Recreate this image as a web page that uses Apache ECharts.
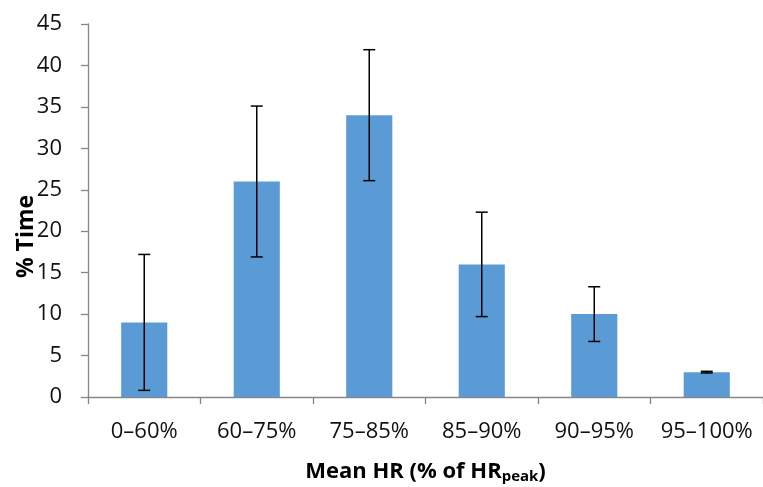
<!DOCTYPE html>
<html><head><meta charset="utf-8">
<script src="https://cdn.jsdelivr.net/npm/echarts@6/dist/echarts.min.js"></script>
<style>html,body{margin:0;padding:0;background:#fff}#c{width:763px;height:487px}</style>
</head><body><div id="c"></div>
<script>
var categories = ['0–60%', '60–75%', '75–85%', '85–90%', '90–95%', '95–100%'];
var values = [9, 26, 34, 16, 10, 3];
var errors = [8.2, 9.1, 7.9, 6.3, 3.3, 0.1];
var yTicks = [0, 45, 5];

var errData = values.map(function (v, i) { return [i, v - errors[i], v + errors[i]]; });
var font = '"Open Sans", "Noto Sans", sans-serif';
var chart = echarts.init(document.getElementById('c'));
chart.setOption({
  animation: false,
  grid: { left: 88, right: 0, top: 24, bottom: 90, containLabel: false, outerBoundsMode: 'none' },
  xAxis: {
    type: 'category', data: categories,
    axisLine: { lineStyle: { color: '#868686', width: 1.3 } },
    axisTick: { show: true, length: 7, lineStyle: { color: '#868686', width: 1.3 } },
    axisLabel: { color: '#111', fontSize: 22, fontFamily: font, margin: 24, interval: 0, hideOverlap: false },
    name: '{b|Mean HR (% of HR}{s|peak}{b|)}',
    nameLocation: 'middle', nameGap: 62,
    nameTextStyle: { rich: {
      b: { fontSize: 22, fontWeight: 'bold', fontFamily: font, color: '#000' },
      s: { fontSize: 15, fontWeight: 'bold', fontFamily: font, color: '#000', verticalAlign: 'bottom', padding: [10, 0, 0, 0] }
    } }
  },
  yAxis: {
    type: 'value', min: yTicks[0], max: yTicks[1], interval: yTicks[2],
    axisLine: { show: true, lineStyle: { color: '#868686', width: 1.3 } },
    axisTick: { show: true, length: 7, lineStyle: { color: '#868686', width: 1.3 } },
    splitLine: { show: false },
    axisLabel: { color: '#111', fontSize: 22, fontFamily: font, margin: 26 },
    name: '% Time', nameLocation: 'middle', nameGap: 50, nameMoveOverlap: false,
    nameTextStyle: { fontSize: 23, fontWeight: 'bold', fontFamily: font, color: '#000', padding: [0, 52, 0, 0] }
  },
  series: [
    { type: 'bar', data: values, barWidth: '41%', itemStyle: { color: '#5B9BD5' } },
    {
      type: 'custom', data: errData, z: 10,
      renderItem: function (params, api) {
        var x = api.value(0);
        var lo = api.coord([x, api.value(1)]);
        var hi = api.coord([x, api.value(2)]);
        var hw = 6;
        var st = { stroke: '#000', lineWidth: 1.5 };
        return { type: 'group', children: [
          { type: 'line', shape: { x1: lo[0], y1: lo[1], x2: hi[0], y2: hi[1] }, style: st },
          { type: 'line', shape: { x1: lo[0] - hw, y1: lo[1], x2: lo[0] + hw, y2: lo[1] }, style: st },
          { type: 'line', shape: { x1: hi[0] - hw, y1: hi[1], x2: hi[0] + hw, y2: hi[1] }, style: st }
        ] };
      }
    }
  ]
});
</script></body></html>
